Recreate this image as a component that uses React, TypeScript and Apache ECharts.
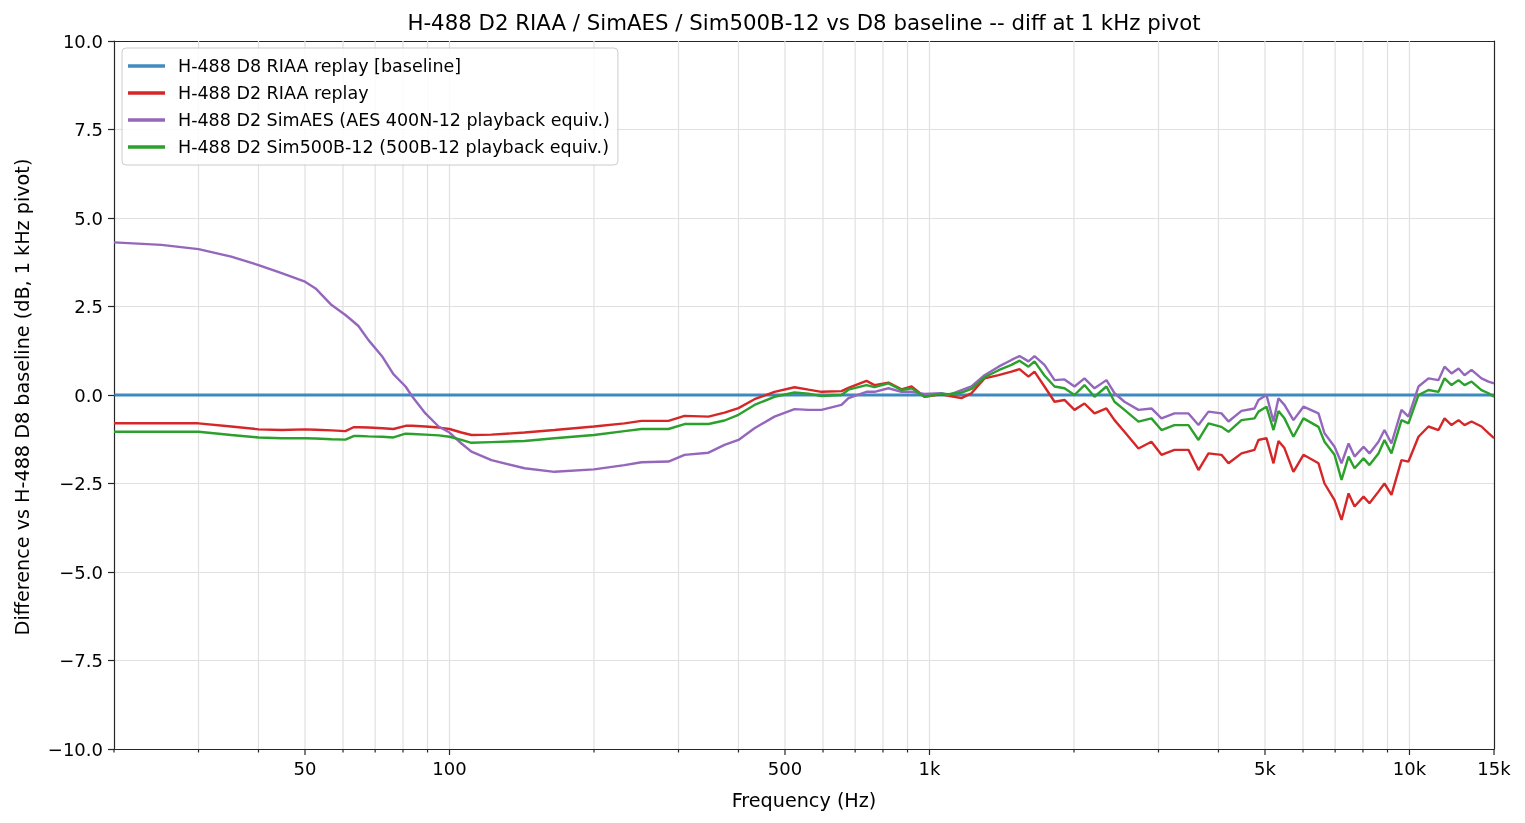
import React, { useEffect, useRef } from "react";
import * as echarts from "echarts";

const titleText = "H-488 D2 RIAA / SimAES / Sim500B-12 vs D8 baseline -- diff at 1 kHz pivot";
const xAxisTitle = "Frequency (Hz)";
const yAxisTitle = "Difference vs H-488 D8 baseline (dB, 1 kHz pivot)";

const seriesNames = [
  "H-488 D8 RIAA replay [baseline]",
  "H-488 D2 RIAA replay",
  "H-488 D2 SimAES (AES 400N-12 playback equiv.)",
  "H-488 D2 Sim500B-12 (500B-12 playback equiv.)",
];
const seriesColors = ["#1f77b4", "#d62728", "#9467bd", "#2ca02c"];

const baselineFreq = [20, 15000];
const baselineDb = [0, 0];

const freqHz = [
  20, 25.1, 30, 35.1, 40, 44.7, 50, 52.6, 56.8, 60.7,
  63.1, 64.6, 67.8, 72.5, 76.4, 81, 83.7, 89.1, 94.9, 100,
  105.9, 111.1, 122.3, 143.3, 165.5, 200, 231.5, 251.2, 285.9, 308.8,
  346.4, 374.1, 400, 431.9, 475.4, 523.3, 559.6, 595.7, 655.6, 678,
  739.2, 768.1, 821.5, 874.3, 917.6, 976.3, 1059, 1095, 1166, 1223,
  1302, 1393, 1482, 1540, 1608, 1655, 1736, 1822, 1911, 2005,
  2103, 2207, 2337, 2429, 2548, 2725, 2900, 3043, 3238, 3464,
  3634, 3813, 4058, 4197, 4467, 4754, 4846, 5036, 5208, 5334,
  5489, 5731, 6013, 6463, 6652, 6981, 7219, 7466, 7684, 8022,
  8254, 8618, 8869, 9172, 9624, 9952, 10441, 10955, 11494, 11831,
  12235, 12654, 13022, 13466, 14125, 14608, 15000,
];

const d2RiaaDb = [
  -0.80, -0.80, -0.80, -0.89, -0.97, -0.99, -0.97, -0.98, -1.00, -1.02,
  -0.91, -0.91, -0.92, -0.94, -0.96, -0.87, -0.87, -0.89, -0.92, -0.96,
  -1.06, -1.13, -1.12, -1.06, -0.99, -0.89, -0.80, -0.73, -0.73, -0.59,
  -0.61, -0.50, -0.37, -0.12, 0.09, 0.22, 0.15, 0.09, 0.11, 0.20,
  0.40, 0.28, 0.35, 0.16, 0.24, -0.05, 0.02, -0.02, -0.09, 0.05,
  0.47, 0.56, 0.66, 0.73, 0.52, 0.66, 0.24, -0.19, -0.14, -0.42,
  -0.24, -0.52, -0.38, -0.71, -1.04, -1.51, -1.32, -1.69, -1.55, -1.55,
  -2.12, -1.65, -1.69, -1.93, -1.65, -1.55, -1.27, -1.22, -1.93, -1.30,
  -1.50, -2.17, -1.69, -1.93, -2.50, -2.97, -3.53, -2.78, -3.15, -2.87,
  -3.06, -2.73, -2.50, -2.82, -1.84, -1.88, -1.18, -0.89, -0.99, -0.66,
  -0.85, -0.71, -0.85, -0.75, -0.89, -1.08, -1.22,
];

const simAesDb = [
  4.31, 4.24, 4.12, 3.91, 3.67, 3.44, 3.20, 3.01, 2.54, 2.26,
  2.07, 1.95, 1.55, 1.08, 0.59, 0.24, -0.05, -0.52, -0.89, -1.06,
  -1.37, -1.60, -1.84, -2.07, -2.17, -2.10, -1.98, -1.90, -1.88, -1.69,
  -1.63, -1.41, -1.27, -0.94, -0.61, -0.40, -0.42, -0.42, -0.28, -0.09,
  0.09, 0.09, 0.19, 0.09, 0.09, 0.03, 0.05, 0.00, 0.14, 0.24,
  0.56, 0.80, 0.99, 1.10, 0.95, 1.10, 0.85, 0.42, 0.44, 0.24,
  0.47, 0.19, 0.42, 0.05, -0.19, -0.42, -0.38, -0.66, -0.52, -0.52,
  -0.85, -0.47, -0.52, -0.75, -0.45, -0.38, -0.14, 0.00, -0.75, -0.09,
  -0.28, -0.71, -0.33, -0.52, -1.08, -1.46, -1.93, -1.37, -1.74, -1.46,
  -1.65, -1.32, -0.99, -1.37, -0.42, -0.61, 0.24, 0.47, 0.42, 0.80,
  0.61, 0.75, 0.56, 0.71, 0.47, 0.38, 0.33,
];

const sim500bDb = [
  -1.04, -1.04, -1.04, -1.13, -1.20, -1.22, -1.22, -1.23, -1.25, -1.26,
  -1.16, -1.16, -1.17, -1.18, -1.20, -1.09, -1.10, -1.12, -1.14, -1.18,
  -1.27, -1.35, -1.33, -1.30, -1.22, -1.13, -1.02, -0.96, -0.96, -0.82,
  -0.82, -0.72, -0.56, -0.28, -0.05, 0.07, 0.04, -0.03, 0.00, 0.15,
  0.28, 0.22, 0.33, 0.14, 0.19, -0.05, 0.04, 0.02, 0.07, 0.17,
  0.50, 0.70, 0.85, 0.97, 0.80, 0.95, 0.55, 0.24, 0.19, 0.00,
  0.28, -0.05, 0.24, -0.19, -0.42, -0.75, -0.66, -0.99, -0.85, -0.85,
  -1.27, -0.80, -0.90, -1.04, -0.71, -0.66, -0.47, -0.33, -0.99, -0.45,
  -0.66, -1.18, -0.66, -0.90, -1.32, -1.69, -2.40, -1.74, -2.07, -1.79,
  -1.98, -1.65, -1.27, -1.65, -0.71, -0.80, 0.00, 0.14, 0.09, 0.47,
  0.28, 0.42, 0.28, 0.38, 0.14, 0.05, -0.05,
];

const xMin = 20;
const xMax = 15000;
const xMajorTicks = [50, 100, 500, 1000, 5000, 10000, 15000];
const xMajorLabels = ["50", "100", "500", "1k", "5k", "10k", "15k"];
const xMinorTicks = [20, 30, 40, 60, 70, 80, 90, 200, 300, 400, 600, 700, 800, 900, 2000, 3000, 4000, 6000, 7000, 8000, 9000];
const yMin = -10;
const yMax = 10;
const yStep = 2.5;

const FONT = "DejaVu Sans";
const TICK_FS = 18;
const LABEL_FS = 19.2;
const TITLE_FS = 21.3;
const LEGEND_FS = 17.5;
const GRID_COLOR = "#e0e0e0";
const AXIS_COLOR = "#262626";

export default function App() {
  const ref = useRef<HTMLDivElement>(null);
  useEffect(() => {
    if (!ref.current) return;
    const chart = echarts.init(ref.current, undefined, { renderer: "svg" });

    const tickItems: number[][] = [
      ...xMinorTicks.map((f) => [f, yMin, 0]),
      ...xMajorTicks.map((f) => [f, yMin, 1]),
    ];
    const pair = (xs: number[], ys: number[]) => xs.map((x, i) => [x, ys[i]]);

    const lineSeries = [
      { name: seriesNames[0], data: pair(baselineFreq, baselineDb), width: 3, opacity: 0.85 },
      { name: seriesNames[1], data: pair(freqHz, d2RiaaDb), width: 2.4, opacity: 1 },
      { name: seriesNames[2], data: pair(freqHz, simAesDb), width: 2.4, opacity: 1 },
      { name: seriesNames[3], data: pair(freqHz, sim500bDb), width: 2.4, opacity: 1 },
    ].map((s, i) => ({
      type: "line",
      name: s.name,
      xAxisIndex: 0,
      yAxisIndex: 0,
      data: s.data,
      symbol: "none",
      showSymbol: false,
      z: 3 + i,
      color: seriesColors[i],
      lineStyle: { width: s.width, color: seriesColors[i], opacity: s.opacity },
    }));

    const frameAxis = { show: true, onZero: false, lineStyle: { color: AXIS_COLOR, width: 1.2 } };

    chart.setOption({
      animation: false,
      grid: {
        left: 114,
        right: 31,
        top: 41,
        bottom: 74,
        show: false,
      },
      legend: {
        data: seriesNames.map((n, i) => ({
          name: n,
          icon: "rect",
          itemStyle: { color: seriesColors[i], opacity: i === 0 ? 0.85 : 1 },
        })),
        orient: "vertical",
        left: 122,
        top: 48,
        itemWidth: 37,
        itemHeight: 3.5,
        itemGap: 7,
        padding: [8, 8, 8, 6],
        backgroundColor: "rgba(255,255,255,0.85)",
        borderColor: "#cccccc",
        borderWidth: 1,
        borderRadius: 4,
        textStyle: {
          fontFamily: FONT,
          fontSize: LEGEND_FS,
          lineHeight: 20,
          color: "#000",
          padding: [0, 0, 0, 8],
        },
      },
      xAxis: [
        {
          type: "log",
          logBase: 10,
          min: xMin,
          max: xMax,
          position: "bottom",
          axisLine: frameAxis,
          axisTick: { show: false },
          axisLabel: { show: false },
          splitLine: { show: false },
          minorTick: { show: false },
        },
        {
          type: "log",
          logBase: 10,
          min: xMin,
          max: xMax,
          position: "top",
          axisLine: frameAxis,
          axisTick: { show: false },
          axisLabel: { show: false },
          splitLine: { show: false },
        },
      ],
      yAxis: [
        {
          type: "value",
          min: yMin,
          max: yMax,
          interval: yStep,
          position: "left",
          axisLine: frameAxis,
          axisTick: { show: true, length: 6, lineStyle: { color: AXIS_COLOR, width: 1.2 } },
          axisLabel: {
            fontFamily: FONT,
            fontSize: TICK_FS,
            color: "#000",
            margin: 11,
            formatter: (v: number) => (v < 0 ? "\u2212" : "") + Math.abs(v).toFixed(1),
          },
          splitLine: { show: true, lineStyle: { color: GRID_COLOR, width: 1.2 } },
        },
        {
          type: "value",
          min: yMin,
          max: yMax,
          interval: yStep,
          position: "right",
          axisLine: frameAxis,
          axisTick: { show: false },
          axisLabel: { show: false },
          splitLine: { show: false },
        },
      ],
      graphic: [
        {
          type: "text",
          x: 804,
          y: 22,
          style: { text: titleText, fontFamily: FONT, fontSize: TITLE_FS, fill: "#000", align: "center", verticalAlign: "middle" },
        },
        {
          type: "text",
          x: 804,
          y: 800,
          style: { text: xAxisTitle, fontFamily: FONT, fontSize: LABEL_FS, fill: "#000", align: "center", verticalAlign: "middle" },
        },
        {
          type: "text",
          x: 22,
          y: 397,
          rotation: Math.PI / 2,
          style: { text: yAxisTitle, fontFamily: FONT, fontSize: LABEL_FS, fill: "#000", align: "center", verticalAlign: "middle" },
        },
      ],
      series: [
        {
          type: "custom",
          name: "xticks",
          xAxisIndex: 0,
          yAxisIndex: 0,
          z: 1,
          silent: true,
          encode: { x: 0, y: 1 },
          data: tickItems,
          renderItem: (params: any, api: any) => {
            const f = api.value(0);
            const major = api.value(2) === 1;
            const b = api.coord([f, yMin]);
            const t = api.coord([f, yMax]);
            const children: any[] = [];
            if (f !== xMin && f !== xMax) {
              children.push({
                type: "line",
                shape: { x1: b[0], y1: t[1], x2: b[0], y2: b[1] },
                style: { stroke: GRID_COLOR, lineWidth: 1.2 },
              });
            }
            children.push({
              type: "line",
              shape: { x1: b[0], y1: b[1], x2: b[0], y2: b[1] + (major ? 6 : 3.5) },
              style: { stroke: AXIS_COLOR, lineWidth: 1.2 },
            });
            if (major) {
              const idx = xMajorTicks.indexOf(f);
              children.push({
                type: "text",
                x: b[0],
                y: b[1] + 10,
                style: {
                  text: xMajorLabels[idx],
                  fontFamily: FONT,
                  fontSize: TICK_FS,
                  fill: "#000",
                  align: "center",
                  verticalAlign: "top",
                },
              });
            }
            return { type: "group", children };
          },
        },
        ...lineSeries,
      ],
    });
    return () => chart.dispose();
  }, []);
  return <div ref={ref} style={{ position: "fixed", left: 0, top: 0, width: 1525, height: 823 }} />;
}
